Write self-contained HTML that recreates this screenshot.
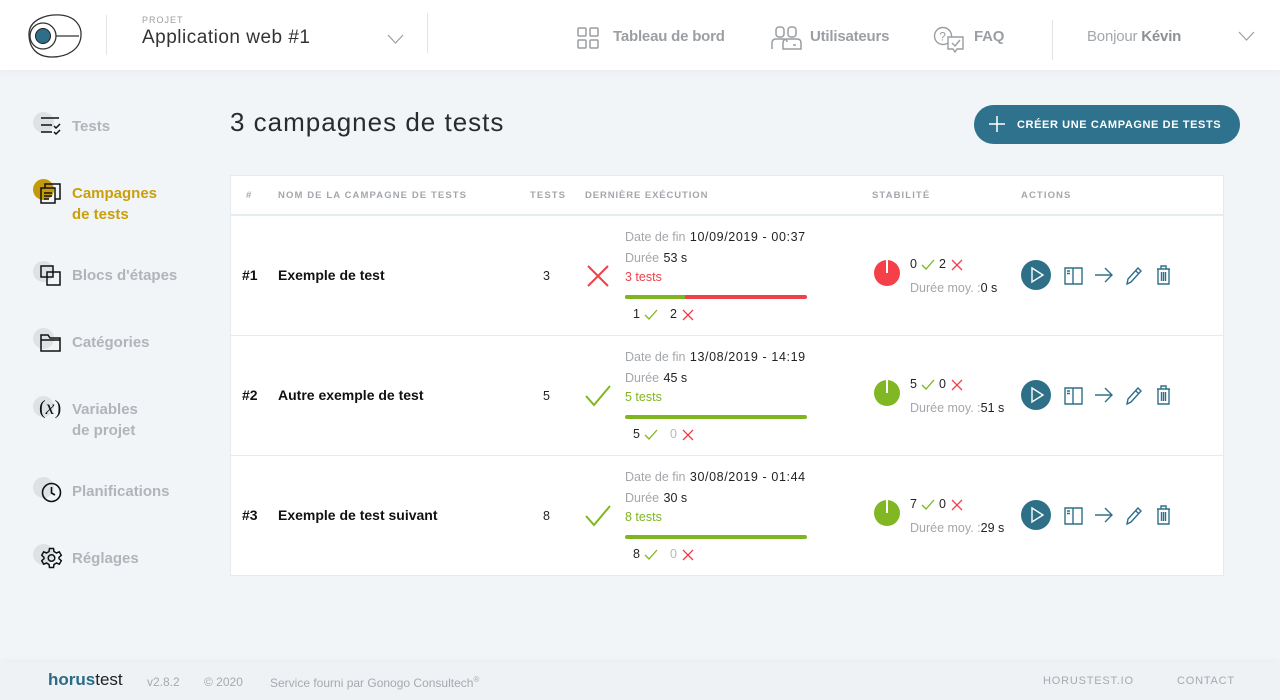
<!DOCTYPE html>
<html><head><meta charset="utf-8">
<style>
*{margin:0;padding:0;box-sizing:border-box}
body{width:1280px;height:700px;background:#f1f5f8;font-family:"Liberation Sans",sans-serif;position:relative;overflow:hidden;color:#222}
.a{position:absolute;white-space:nowrap}
#hdr{position:absolute;left:0;top:0;width:1280px;height:70px;background:#fff;box-shadow:0 2px 8px rgba(0,0,0,0.04)}
.vline{position:absolute;width:1px;background:#e2e5e8}
.nav{font-size:15px;color:#9b9fa3;font-weight:bold;letter-spacing:-0.2px}
.side{font-size:15px;color:#b1b5b9;font-weight:bold;line-height:21px}
.dot{position:absolute;width:21px;height:21px;border-radius:50%;background:#dfe2e5}
.th{font-size:9.5px;font-weight:bold;color:#a3a7ab;letter-spacing:1.1px}
.lbl{font-size:12.5px;color:#a3a7ab}
.val{font-size:12.5px;color:#222}
.dv{letter-spacing:0.6px}
.bold{font-size:14px;font-weight:bold;color:#111}
#ftr{position:absolute;left:0;top:662px;width:1280px;height:38px;background:#eef2f5;box-shadow:0 -2px 6px rgba(0,0,0,0.03)}
.ft{font-size:12px;color:#a6aaae}
</style></head><body>

<div id="hdr">
  <svg class="a" style="left:24px;top:12px" width="60" height="48" viewBox="0 0 60 48">
    <path d="M5 22 C5 8 22 2 36 3 C51 4 58 14 57 24 C56 37 44 45 28 45 C13 45 5 36 5 22 Z" fill="none" stroke="#333" stroke-width="1.3"/>
    <circle cx="19" cy="24" r="13" fill="none" stroke="#333" stroke-width="1.3"/>
    <path d="M32 24 H55" stroke="#333" stroke-width="1.3"/>
    <circle cx="19" cy="24" r="7.5" fill="#2e6e89" stroke="#222" stroke-width="1"/>
  </svg>
  <div class="vline" style="left:106px;top:15px;height:40px"></div>
  <div class="a" style="left:142px;top:15px;font-size:9px;color:#9a9ea2;letter-spacing:1px">PROJET</div>
  <div class="a" style="left:142px;top:27px;font-size:19px;color:#333;letter-spacing:0.5px">Application web #1</div>
  <svg class="a" style="left:387px;top:34px" width="18" height="11"><path d="M1 1 L8.5 9 L16 1" fill="none" stroke="#9a9ea2" stroke-width="1.2"/></svg>
  <div class="vline" style="left:427px;top:13px;height:40px"></div>

  <svg class="a" style="left:577px;top:27px" width="22" height="22" fill="none" stroke="#9a9ea2" stroke-width="1.5">
    <rect x="1" y="1" width="8" height="8" rx="1"/><rect x="13" y="1" width="8" height="8" rx="1"/>
    <rect x="1" y="13" width="8" height="8" rx="1"/><rect x="13" y="13" width="8" height="8" rx="1"/>
  </svg>
  <div class="a nav" style="left:613px;top:28px">Tableau de bord</div>
  <svg class="a" style="left:771px;top:25px" width="32" height="26" fill="none" stroke="#9a9ea2" stroke-width="1.5">
    <rect x="5" y="2" width="8" height="10" rx="3"/><path d="M1 24 V18 Q1 14 5 14 H13 Q16 14 16 17"/>
    <rect x="17" y="2" width="8" height="10" rx="3"/><path d="M12 24 V18 Q12 14 16 14 H26 Q30 14 30 18 V24 Z"/><path d="M22 20 H25"/>
  </svg>
  <div class="a nav" style="left:810px;top:28px">Utilisateurs</div>
  <svg class="a" style="left:933px;top:26px" width="34" height="28" fill="none" stroke="#9a9ea2" stroke-width="1.4">
    <circle cx="10" cy="10" r="8.5"/><text x="6.3" y="14.5" font-size="12" fill="#9a9ea2" stroke="none" font-family="Liberation Sans">?</text>
    <path d="M15 11 H30 V23 H24 L22 26 L20 23 H15 Z" fill="#fff"/><path d="M19 17 L22 20 L27 14"/>
  </svg>
  <div class="a nav" style="left:974px;top:28px">FAQ</div>
  <div class="vline" style="left:1052px;top:20px;height:40px"></div>
  <div class="a" style="left:1087px;top:28px;font-size:15px;color:#a3a7ab;letter-spacing:-0.2px">Bonjour <b style="color:#8e9296">Kévin</b></div>
  <svg class="a" style="left:1238px;top:31px" width="18" height="11"><path d="M1 1 L8.5 9 L16 1" fill="none" stroke="#9a9ea2" stroke-width="1.2"/></svg>
</div>

<!-- sidebar -->
<div class="dot" style="left:33px;top:112px"></div>
<svg class="a" style="left:40px;top:116px" width="22" height="20" fill="none" stroke="#111" stroke-width="1.5">
  <path d="M1 2 H19 M1 9 H12 M1 16 H12 M14 10 L16 12 L20 8 M14 16 L16 18 L20 14"/>
</svg>
<div class="a side" style="left:72px;top:116px">Tests</div>

<div class="dot" style="left:33px;top:179px;background:#c49a0a"></div>
<svg class="a" style="left:40px;top:183px" width="22" height="22" fill="none" stroke="#111" stroke-width="1.5">
  <rect x="1" y="5" width="14" height="15"/><path d="M5 5 V1 H20 V16 H15"/><path d="M4 10 H12 M4 13 H12 M4 16 H9"/>
</svg>
<div class="a side" style="left:72px;top:183px;color:#c9a00a">Campagnes<br>de tests</div>

<div class="dot" style="left:33px;top:261px"></div>
<svg class="a" style="left:40px;top:265px" width="22" height="22" fill="none" stroke="#111" stroke-width="1.5">
  <rect x="1" y="1" width="12" height="11"/><rect x="7" y="7" width="13" height="13"/>
</svg>
<div class="a side" style="left:72px;top:265px">Blocs d'étapes</div>

<div class="dot" style="left:33px;top:328px"></div>
<svg class="a" style="left:40px;top:332px" width="22" height="22" fill="none" stroke="#111" stroke-width="1.5">
  <path d="M1 3 H8 L10 6 H20 V19 H1 Z M1 8 H20"/>
</svg>
<div class="a side" style="left:72px;top:332px">Catégories</div>

<div class="dot" style="left:33px;top:396px"></div>
<div class="a" style="left:39px;top:397px;font-family:'Liberation Serif',serif;font-size:20px;color:#111"><span>(</span><i>x</i><span>)</span></div>
<div class="a side" style="left:72px;top:399px">Variables<br>de projet</div>

<div class="dot" style="left:33px;top:477px"></div>
<svg class="a" style="left:41px;top:482px" width="22" height="22" fill="none" stroke="#111" stroke-width="1.6">
  <circle cx="10.5" cy="10.5" r="9"/><path d="M10.5 5 V11 L14 13"/>
</svg>
<div class="a side" style="left:72px;top:481px">Planifications</div>

<div class="dot" style="left:33px;top:544px"></div>
<svg class="a" style="left:41px;top:547px" width="22" height="22" fill="none" stroke="#111" stroke-width="1.5">
  <path d="M8.5 1.5 H12.5 L13 4.5 L15.5 6 L18.3 4.8 L20.3 8.3 L18 10.3 V11.7 L20.3 13.7 L18.3 17.2 L15.5 16 L13 17.5 L12.5 20.5 H8.5 L8 17.5 L5.5 16 L2.7 17.2 L0.7 13.7 L3 11.7 V10.3 L0.7 8.3 L2.7 4.8 L5.5 6 L8 4.5 Z"/>
  <circle cx="10.5" cy="11" r="3.3"/>
</svg>
<div class="a side" style="left:72px;top:548px">Réglages</div>

<!-- title -->
<div class="a" style="left:230px;top:107px;font-size:26px;color:#2b2b2b;letter-spacing:1px">3 campagnes de tests</div>
<div class="a" style="left:974px;top:105px;width:266px;height:39px;border-radius:20px;background:#2f728d"></div>
<svg class="a" style="left:988px;top:115px" width="18" height="18"><path d="M9 1 V17 M1 9 H17" stroke="#fff" stroke-width="1.5"/></svg>
<div class="a" style="left:1017px;top:119px;font-size:11px;font-weight:bold;color:#fff;letter-spacing:0.6px">CRÉER UNE CAMPAGNE DE TESTS</div>

<!-- table -->
<div class="a" style="left:230px;top:175px;width:994px;height:401px;background:#fff;border:1px solid #e3ebf0"></div>
<div class="a" style="left:231px;top:214px;width:992px;height:2px;background:#e6edf1;box-shadow:0 -2px 4px rgba(0,0,0,0.03)"></div>
<div class="a" style="left:231px;top:335px;width:992px;height:1px;background:#e6edf1"></div>
<div class="a" style="left:231px;top:455px;width:992px;height:1px;background:#e6edf1"></div>

<div class="a th" style="left:246px;top:190px">#</div>
<div class="a th" style="left:278px;top:190px">NOM DE LA CAMPAGNE DE TESTS</div>
<div class="a th" style="left:530px;top:190px">TESTS</div>
<div class="a th" style="left:585px;top:190px;letter-spacing:0.9px">DERNIÈRE EXÉCUTION</div>
<div class="a th" style="left:872px;top:190px">STABILITÉ</div>
<div class="a th" style="left:1021px;top:190px">ACTIONS</div>

<!-- Row 1 -->
<div class="a bold" style="left:242px;top:267px">#1</div>
<div class="a bold" style="left:278px;top:267px">Exemple de test</div>
<div class="a val" style="left:543px;top:269px">3</div>
<svg class="a" style="left:586px;top:264px" width="24" height="24"><path d="M2 2 L22 22 M22 2 L2 22" stroke="#f0404a" stroke-width="2"/></svg>
<div class="a" style="left:625px;top:228px"><span class="lbl">Date de fin</span> <span class="val dv">10/09/2019 - 00:37</span></div>
<div class="a" style="left:625px;top:249px"><span class="lbl">Durée</span> <span class="val">53 s</span></div>
<div class="a" style="left:625px;top:270px;font-size:12.5px;color:#f0404a">3 tests</div>
<div class="a" style="left:625px;top:295px;width:182px;height:4px;border-radius:2px;background:#f0404a"></div>
<div class="a" style="left:625px;top:295px;width:60px;height:4px;border-radius:2px 0 0 2px;background:#7fb61f"></div>
<div class="a val" style="left:633px;top:307px">1</div>
<svg class="a" style="left:644px;top:309px" width="14" height="12"><path d="M1 6 L5 10 L13 1" fill="none" stroke="#7fb61f" stroke-width="1.3"/></svg>
<div class="a val" style="left:670px;top:307px">2</div>
<svg class="a" style="left:682px;top:309px" width="12" height="12"><path d="M1 1 L11 11 M11 1 L1 11" stroke="#f0404a" stroke-width="1.3"/></svg>

<svg class="a" style="left:873px;top:259px" width="28" height="28"><circle cx="14" cy="14" r="13" fill="#f5404a"/><path d="M14 1 V14" stroke="#fff" stroke-width="2"/></svg>
<div class="a val" style="left:910px;top:257px">0</div>
<svg class="a" style="left:921px;top:259px" width="14" height="12"><path d="M1 6 L5 10 L13 1" fill="none" stroke="#7fb61f" stroke-width="1.3"/></svg>
<div class="a val" style="left:939px;top:257px">2</div>
<svg class="a" style="left:951px;top:259px" width="12" height="12"><path d="M1 1 L11 11 M11 1 L1 11" stroke="#f0404a" stroke-width="1.3"/></svg>
<div class="a" style="left:910px;top:279px"><span class="lbl">Durée moy. :</span><span class="val">0 s</span></div>

<!-- Row 2 -->
<div class="a bold" style="left:242px;top:387px">#2</div>
<div class="a bold" style="left:278px;top:387px">Autre exemple de test</div>
<div class="a val" style="left:543px;top:389px">5</div>
<svg class="a" style="left:584px;top:383px" width="28" height="26"><path d="M2 13 L10 22 L26 3" fill="none" stroke="#7fb61f" stroke-width="2"/></svg>
<div class="a" style="left:625px;top:348px"><span class="lbl">Date de fin</span> <span class="val dv">13/08/2019 - 14:19</span></div>
<div class="a" style="left:625px;top:369px"><span class="lbl">Durée</span> <span class="val">45 s</span></div>
<div class="a" style="left:625px;top:390px;font-size:12.5px;color:#7fb61f">5 tests</div>
<div class="a" style="left:625px;top:415px;width:182px;height:4px;border-radius:2px;background:#7fb61f"></div>
<div class="a val" style="left:633px;top:427px">5</div>
<svg class="a" style="left:644px;top:429px" width="14" height="12"><path d="M1 6 L5 10 L13 1" fill="none" stroke="#7fb61f" stroke-width="1.3"/></svg>
<div class="a val" style="left:670px;top:427px;color:#b5b9bd">0</div>
<svg class="a" style="left:682px;top:429px" width="12" height="12"><path d="M1 1 L11 11 M11 1 L1 11" stroke="#f0404a" stroke-width="1.3"/></svg>

<svg class="a" style="left:873px;top:379px" width="28" height="28"><circle cx="14" cy="14" r="13" fill="#80b723"/><path d="M14 1 V14" stroke="#fff" stroke-width="2"/></svg>
<div class="a val" style="left:910px;top:377px">5</div>
<svg class="a" style="left:921px;top:379px" width="14" height="12"><path d="M1 6 L5 10 L13 1" fill="none" stroke="#7fb61f" stroke-width="1.3"/></svg>
<div class="a val" style="left:939px;top:377px">0</div>
<svg class="a" style="left:951px;top:379px" width="12" height="12"><path d="M1 1 L11 11 M11 1 L1 11" stroke="#f0404a" stroke-width="1.3"/></svg>
<div class="a" style="left:910px;top:399px"><span class="lbl">Durée moy. :</span><span class="val">51 s</span></div>

<!-- Row 3 -->
<div class="a bold" style="left:242px;top:507px">#3</div>
<div class="a bold" style="left:278px;top:507px">Exemple de test suivant</div>
<div class="a val" style="left:543px;top:509px">8</div>
<svg class="a" style="left:584px;top:503px" width="28" height="26"><path d="M2 13 L10 22 L26 3" fill="none" stroke="#7fb61f" stroke-width="2"/></svg>
<div class="a" style="left:625px;top:468px"><span class="lbl">Date de fin</span> <span class="val dv">30/08/2019 - 01:44</span></div>
<div class="a" style="left:625px;top:489px"><span class="lbl">Durée</span> <span class="val">30 s</span></div>
<div class="a" style="left:625px;top:510px;font-size:12.5px;color:#7fb61f">8 tests</div>
<div class="a" style="left:625px;top:535px;width:182px;height:4px;border-radius:2px;background:#7fb61f"></div>
<div class="a val" style="left:633px;top:547px">8</div>
<svg class="a" style="left:644px;top:549px" width="14" height="12"><path d="M1 6 L5 10 L13 1" fill="none" stroke="#7fb61f" stroke-width="1.3"/></svg>
<div class="a val" style="left:670px;top:547px;color:#b5b9bd">0</div>
<svg class="a" style="left:682px;top:549px" width="12" height="12"><path d="M1 1 L11 11 M11 1 L1 11" stroke="#f0404a" stroke-width="1.3"/></svg>

<svg class="a" style="left:873px;top:499px" width="28" height="28"><circle cx="14" cy="14" r="13" fill="#80b723"/><path d="M14 1 V14" stroke="#fff" stroke-width="2"/></svg>
<div class="a val" style="left:910px;top:497px">7</div>
<svg class="a" style="left:921px;top:499px" width="14" height="12"><path d="M1 6 L5 10 L13 1" fill="none" stroke="#7fb61f" stroke-width="1.3"/></svg>
<div class="a val" style="left:939px;top:497px">0</div>
<svg class="a" style="left:951px;top:499px" width="12" height="12"><path d="M1 1 L11 11 M11 1 L1 11" stroke="#f0404a" stroke-width="1.3"/></svg>
<div class="a" style="left:910px;top:519px"><span class="lbl">Durée moy. :</span><span class="val">29 s</span></div>

<!-- action icons (3 rows) -->
<svg class="a" style="left:1020px;top:259px" width="155" height="32" fill="none" stroke="#2f7089" stroke-width="1.4">
  <circle cx="16" cy="16" r="15" fill="#2f7089" stroke="none"/><path d="M12 9 L23 16 L12 23 Z" stroke="#fff" stroke-width="1.4"/>
  <path d="M45 9 H53 V25 H45 Z M53 9 H62 V25 H53 M47 12 H50 M47 14.5 H50"/>
  <path d="M75 16 H92 M85 9 L92 16 L85 23"/>
  <path d="M107 25 L108 20 L118 9 L121 12 L111 23 Z M115.5 11.5 L118.5 14.5"/>
  <path d="M137 10 H150 M141 10 V7 H146 V10 M138 10 V25 H149 V10 M141.5 13 V22 M143.5 13 V22 M145.5 13 V22"/>
</svg>
<svg class="a" style="left:1020px;top:379px" width="155" height="32" fill="none" stroke="#2f7089" stroke-width="1.4">
  <circle cx="16" cy="16" r="15" fill="#2f7089" stroke="none"/><path d="M12 9 L23 16 L12 23 Z" stroke="#fff" stroke-width="1.4"/>
  <path d="M45 9 H53 V25 H45 Z M53 9 H62 V25 H53 M47 12 H50 M47 14.5 H50"/>
  <path d="M75 16 H92 M85 9 L92 16 L85 23"/>
  <path d="M107 25 L108 20 L118 9 L121 12 L111 23 Z M115.5 11.5 L118.5 14.5"/>
  <path d="M137 10 H150 M141 10 V7 H146 V10 M138 10 V25 H149 V10 M141.5 13 V22 M143.5 13 V22 M145.5 13 V22"/>
</svg>
<svg class="a" style="left:1020px;top:499px" width="155" height="32" fill="none" stroke="#2f7089" stroke-width="1.4">
  <circle cx="16" cy="16" r="15" fill="#2f7089" stroke="none"/><path d="M12 9 L23 16 L12 23 Z" stroke="#fff" stroke-width="1.4"/>
  <path d="M45 9 H53 V25 H45 Z M53 9 H62 V25 H53 M47 12 H50 M47 14.5 H50"/>
  <path d="M75 16 H92 M85 9 L92 16 L85 23"/>
  <path d="M107 25 L108 20 L118 9 L121 12 L111 23 Z M115.5 11.5 L118.5 14.5"/>
  <path d="M137 10 H150 M141 10 V7 H146 V10 M138 10 V25 H149 V10 M141.5 13 V22 M143.5 13 V22 M145.5 13 V22"/>
</svg>

<div id="ftr">
  <div class="a" style="left:48px;top:8px;font-size:17px;color:#222"><b style="color:#2a6b86">horus</b>test</div>
  <div class="a ft" style="left:147px;top:13px">v2.8.2</div>
  <div class="a ft" style="left:204px;top:13px">© 2020</div>
  <div class="a ft" style="left:270px;top:13px">Service fourni par Gonogo Consultech<sup style="font-size:8px">®</sup></div>
  <div class="a ft" style="left:1043px;top:13px;font-size:11px;letter-spacing:0.8px">HORUSTEST.IO</div>
  <div class="a ft" style="left:1177px;top:13px;font-size:11px;letter-spacing:0.8px">CONTACT</div>
</div>
</body></html>
